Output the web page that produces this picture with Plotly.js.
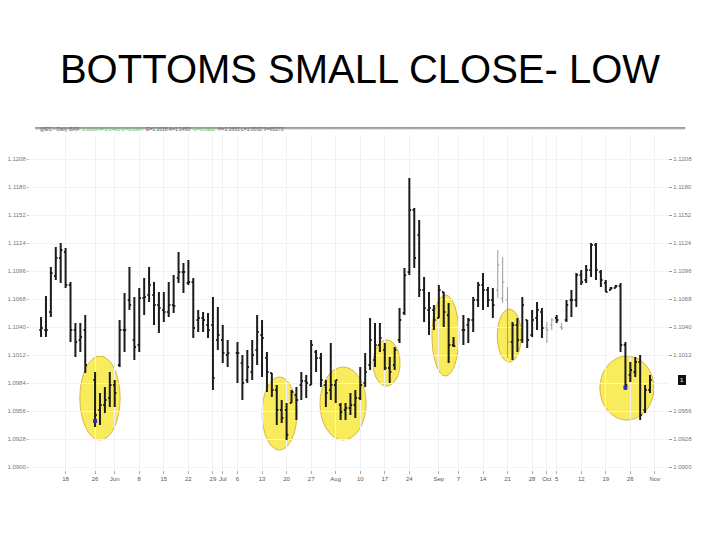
<!DOCTYPE html>
<html>
<head>
<meta charset="utf-8">
<script src="https://cdn.plot.ly/plotly-3.0.1.min.js"></script>
<style>html,body{margin:0;padding:0;background:#fff;}#chart{width:720px;height:540px;}</style>
</head>
<body>
<div id="chart"></div>
<script>
// Trading days (2009) per month
const mayDays = [11,12,13,14,15,18,19,20,21,22,26,27,28,29];
const junDays = [1,2,3,4,5,8,9,10,11,12,15,16,17,18,19,22,23,24,25,26,29,30];
const julDays = [1,2,6,7,8,9,10,13,14,15,16,17,20,21,22,23,24,27,28,29,30,31];
const augDays = [3,4,5,6,7,10,11,12,13,14,17,18,19,20,21,24,25,26,27,28,31];
const sepDays = [1,2,3,4,8,9,10,11,14,15,16,17,18,21,22,23,24,25,28,29,30];
const octDays = [1,2,5,6,7,8,9,12,13,14,15,16,19,20,21,22,23,26,27,28,29,30];

const highs = [1.1050,1.1071,1.1100,1.1120,1.1124,1.1119,1.1085,1.1044,1.1044,1.1052,
1.0995,1.0974,1.0980,1.0995,1.0987,1.1047,1.1074,1.1100,1.1070,1.1079,
1.1089,1.1100,1.1085,1.1075,1.1075,1.1085,1.1092,1.1115,1.1104,1.1107,
1.1089,1.1057,1.1055,1.1054,1.1070,1.1060,1.1042,1.1027,1.1025,1.1012,
1.1017,1.1027,1.1052,1.1047,1.1015,1.0994,1.0982,1.0967,1.0964,1.0977,
1.0980,1.0995,1.0992,1.1027,1.1017,1.1014,1.0987,1.1024,1.0987,1.0964,
1.0964,1.0974,1.0977,1.1000,1.1014,1.1049,1.1044,1.1044,1.1024,1.1010,
1.1020,1.1059,1.1099,1.1189,1.1159,1.1147,1.1090,1.1075,1.1062,1.1082,
1.1075,1.1064,1.1030,1.1052,1.1049,1.1070,1.1085,1.1094,1.1080,1.1079,
1.1117,1.1110,1.1080,1.1045,1.1049,1.1070,1.1047,1.1057,1.1065,1.1059,
1.1045,1.1049,1.1052,1.1044,1.1067,1.1077,1.1094,1.1097,1.1102,1.1124,
1.1124,1.1097,1.1087,1.1080,1.1082,1.1084,1.1025,1.1005,1.1010,1.1012,
1.0982,1.0992];
const lows = [1.1030,1.1030,1.1050,1.1087,1.1084,1.1079,1.1025,1.1010,1.1015,1.0994,
1.0940,1.0942,1.0954,1.0960,1.0960,1.1000,1.1015,1.1057,1.1007,1.1015,
1.1052,1.1065,1.1042,1.1034,1.1045,1.1050,1.1054,1.1084,1.1074,1.1082,
1.1029,1.1035,1.1035,1.1029,1.0977,1.1017,1.1004,1.1000,1.0984,1.0967,
1.0984,1.0987,1.1002,1.0990,1.0975,1.0970,1.0942,1.0944,1.0927,1.0964,
1.0947,1.0967,1.0969,1.0982,1.0995,1.0980,1.0960,1.0967,1.0964,1.0947,
1.0947,1.0952,1.0949,1.0967,1.0980,1.0997,1.1000,1.1015,1.0997,1.0984,
1.0997,1.1024,1.1052,1.1092,1.1099,1.1070,1.1045,1.1032,1.1037,1.1049,
1.1040,1.1004,1.1020,1.1022,1.1024,1.1035,1.1060,1.1057,1.1060,1.1049,
1.1069,1.1064,1.1009,1.1007,1.1015,1.1024,1.1019,1.1030,1.1037,1.1029,
1.1024,1.1037,1.1044,1.1037,1.1045,1.1050,1.1060,1.1082,1.1084,1.1090,
1.1087,1.1080,1.1075,1.1077,1.1079,1.1015,1.0977,1.0985,1.0990,1.0947,
1.0954,1.0974];
const opens = [1.1037,1.1037,1.1055,1.1091,1.1109,1.1115,1.1082,1.1037,1.1027,1.1037,
1.0987,1.0957,1.0962,1.0969,1.0982,1.1002,1.1037,1.1067,1.1027,1.1022,
1.1069,1.1072,1.1072,1.1062,1.1057,1.1055,1.1062,1.1089,1.1095,1.1084,
1.1085,1.1047,1.1049,1.1042,1.1042,1.1027,1.1027,1.1012,1.1014,1.1004,
1.0987,1.0995,1.1017,1.1032,1.1009,1.0994,1.0977,1.0957,1.0957,1.0964,
1.0972,1.0982,1.0986,1.0982,1.1015,1.1009,1.0982,1.0977,1.0982,1.0962,
1.0957,1.0959,1.0962,1.0969,1.0984,1.1002,1.1007,1.1022,1.1017,1.0999,
1.1002,1.1027,1.1054,1.1095,1.1157,1.1132,1.1077,1.1057,1.1057,1.1049,
1.1075,1.1052,1.1022,1.1037,1.1042,1.1047,1.1067,1.1082,1.1077,1.1067,
1.1077,1.1069,1.1067,1.1025,1.1042,1.1027,1.1047,1.1032,1.1049,1.1055,
1.1039,1.1042,1.1049,1.1040,1.1047,1.1067,1.1067,1.1092,1.1087,1.1097,
1.1122,1.1095,1.1084,1.1077,1.1079,1.1081,1.1022,1.0992,1.0995,1.1005,
1.0957,1.0977];
const closes = [1.1039,1.1037,1.1094,1.1109,1.1117,1.1082,1.1037,1.1025,1.1030,1.1002,
1.0952,1.0962,1.0967,1.0982,1.0974,1.1037,1.1037,1.1062,1.1020,1.1069,
1.1070,1.1082,1.1062,1.1059,1.1055,1.1062,1.1061,1.1095,1.1095,1.1085,
1.1039,1.1049,1.1047,1.1037,1.0989,1.1032,1.1014,1.1014,1.1014,1.0984,
1.1000,1.1012,1.1035,1.1029,1.0995,1.0977,1.0957,1.0949,1.0932,1.0975,
1.0967,1.0986,1.0984,1.1022,1.1009,1.0987,1.0974,1.0982,1.0987,1.0955,
1.0959,1.0962,1.0969,1.0982,1.0995,1.1027,1.1022,1.1029,1.0999,1.0995,
1.1017,1.1047,1.1092,1.1157,1.1109,1.1077,1.1059,1.1059,1.1047,1.1077,
1.1055,1.1022,1.1021,1.1037,1.1047,1.1067,1.1082,1.1077,1.1067,1.1062,
1.1102,1.1085,1.1025,1.1042,1.1027,1.1062,1.1027,1.1047,1.1057,1.1039,
1.1037,1.1047,1.1047,1.1039,1.1062,1.1067,1.1092,1.1085,1.1097,1.1122,
1.1097,1.1087,1.1075,1.1079,1.1081,1.1022,1.0982,1.0997,1.1005,1.0952,
1.0977,1.0987];

// bars drawn in light grey in the source (1-based bar numbers)
const lightBars = [91,92,93,101,102,104];
// bars carrying a blue marker near the low (1-based)
const markedBars = [11,117];

const tickDates = ['2009-05-18','2009-05-26','2009-06-01','2009-06-08','2009-06-15','2009-06-22','2009-06-29','2009-07-01',
  '2009-07-06','2009-07-13','2009-07-20','2009-07-27','2009-08-03','2009-08-10','2009-08-17','2009-08-24','2009-09-01',
  '2009-09-07','2009-09-14','2009-09-21','2009-09-28','2009-10-01','2009-10-05','2009-10-12','2009-10-19','2009-10-26','2009-11-02'];
const tickLabels = ['18','26','Jun','8','15','22','29','Jul','6','13','20','27','Aug','10','17','24','Sep',
  '7','14','21','28','Oct','5','12','19','26','Nov'];

// price scale ticks (left and right)
const priceTicks = [1.0900,1.0928,1.0956,1.0984,1.1012,1.1040,1.1068,1.1096,1.1124,1.1152,1.1180,1.1208];
const rightPriceTicks = [1.0900,1.0928,1.0956,1.1012,1.1040,1.1068,1.1096,1.1124,1.1152,1.1180,1.1208];

function pad(n){return (n<10?'0':'')+n;}
const dates = [];
[['2009-05',mayDays],['2009-06',junDays],['2009-07',julDays],['2009-08',augDays],['2009-09',sepDays],['2009-10',octDays]]
  .forEach(([m,arr])=>arr.forEach(d=>dates.push(m+'-'+pad(d))));

function pick(arr, keep){return arr.filter((v,i)=>keep(i+1));}
const isLight = n => lightBars.indexOf(n) >= 0;

const main = {
  type:'ohlc', x:pick(dates,n=>!isLight(n)), open:pick(opens,n=>!isLight(n)), high:pick(highs,n=>!isLight(n)),
  low:pick(lows,n=>!isLight(n)), close:pick(closes,n=>!isLight(n)),
  increasing:{line:{color:'#1c1c1c',width:2}}, decreasing:{line:{color:'#1c1c1c',width:2}},
  tickwidth:0.35, hoverinfo:'skip', showlegend:false
};
const light = {
  type:'ohlc', x:pick(dates,isLight), open:pick(opens,isLight), high:pick(highs,isLight),
  low:pick(lows,isLight), close:pick(closes,isLight),
  increasing:{line:{color:'#9a9a9a',width:1}}, decreasing:{line:{color:'#9a9a9a',width:1}},
  tickwidth:0.35, hoverinfo:'skip', showlegend:false
};
const marks = {
  type:'scatter', mode:'markers',
  x: markedBars.map(n=>dates[n-1]), y: markedBars.map(n=>(lows[n-1]+closes[n-1])/2),
  marker:{symbol:'square', size:4, color:'#2a2ad0'}, hoverinfo:'skip', showlegend:false
};
const rightAxisTrace = {
  type:'scatter', mode:'markers', x:[dates[dates.length-1]], y:[closes[closes.length-1]],
  yaxis:'y2', marker:{opacity:0}, hoverinfo:'skip', showlegend:false
};

const yRange = [1.0897, 1.1232];

const ellipses = [
  ['2009-05-20 21:36','2009-06-02 02:24',1.0927,1.1011],
  ['2009-07-13 00:00','2009-07-22 02:24',1.0917,1.0990],
  ['2009-07-28 19:12','2009-08-11 04:48',1.0927,1.1000],
  ['2009-08-12 14:24','2009-08-20 02:24',1.0981,1.1027],
  ['2009-08-28 14:24','2009-09-07 02:24',1.0991,1.1072],
  ['2009-09-16 21:36','2009-09-23 19:12',1.1005,1.1058],
  ['2009-10-15 19:12','2009-10-30 19:12',1.0947,1.1011]
].map(e=>({type:'circle', xref:'x', yref:'y', x0:e[0], x1:e[1], y0:e[2], y1:e[3],
  fillcolor:'#f8ec5c', line:{color:'#d9b44a', width:1}, layer:'below'}));

const shapes = ellipses.concat([
  {type:'line', xref:'paper', yref:'paper', x0:0.008, x1:1.027, y0:1.021, y1:1.021, line:{color:'#9c9c9c', width:2}},
  {type:'line', xref:'paper', yref:'paper', x0:0.008, x1:1.027, y0:1.017, y1:1.017, line:{color:'#dcdcdc', width:1}}
]);

const tickFont = {size:6, color:'#777', family:'Liberation Sans, Arial'};

const layout = {
  width:720, height:540,
  margin:{l:30, r:52, t:135, b:70},
  paper_bgcolor:'#ffffff', plot_bgcolor:'#ffffff',
  title:{text:'BOTTOMS SMALL CLOSE- LOW', font:{family:'Liberation Sans, Arial, sans-serif', size:40, color:'#000'},
    x:0.5, xanchor:'center', xref:'container', yref:'container', y:0.872, yanchor:'middle'},
  xaxis:{type:'date', range:['2009-05-06 18:00','2009-11-04 16:00'],
    rangebreaks:[{bounds:['sat','mon']}],
    rangeslider:{visible:false},
    tickvals:tickDates, ticktext:tickLabels, tickfont:{size:6, color:'#555', family:'Liberation Sans, Arial'},
    ticks:'outside', ticklen:3, tickcolor:'#aaa', showgrid:true, gridcolor:'#f1f1f1', gridwidth:1,
    showline:false, zeroline:false, fixedrange:true},
  yaxis:{range:yRange, side:'left', tickvals:priceTicks, ticktext:priceTicks.map(v=>v.toFixed(4)),
    tickfont:tickFont, ticks:'outside', ticklen:2, tickcolor:'#bbb',
    showgrid:true, gridcolor:'#f3f3f3', zeroline:false, showline:false, fixedrange:true},
  yaxis2:{range:yRange, overlaying:'y', side:'right', tickvals:rightPriceTicks, ticktext:rightPriceTicks.map(v=>v.toFixed(4)),
    tickfont:tickFont, ticks:'outside', ticklen:3, tickcolor:'#999', showgrid:false, zeroline:false, showline:false, fixedrange:true},
  shapes:shapes,
  annotations:[
    {xref:'paper', yref:'paper', x:0.012, y:1.004, xanchor:'left', yanchor:'bottom', showarrow:false,
     text:"<span style='color:#666'>@EC - Daily BAR</span>  <span style='color:#5cc85c'>1.1016 A=1.1493 C=1.0987</span>  <span style='color:#666'>E=1.1016 A=1.1493</span>  <span style='color:#5cc85c'>O=1.0982</span>  <span style='color:#666'>H=1.1601 L=1.0032 V=65273</span>",
     font:{size:5, family:'Liberation Sans, Arial'}},
    {xref:'paper', yref:'y', x:1.022, y:closes[closes.length-1], xanchor:'center', yanchor:'middle', showarrow:false,
     text:'1', bgcolor:'#111', bordercolor:'#111', borderpad:1, font:{size:6, color:'#fff', family:'Liberation Sans, Arial'}}
  ]
};

Plotly.newPlot('chart', [main, light, marks, rightAxisTrace], layout, {displayModeBar:false, staticPlot:true});
</script>
</body>
</html>
